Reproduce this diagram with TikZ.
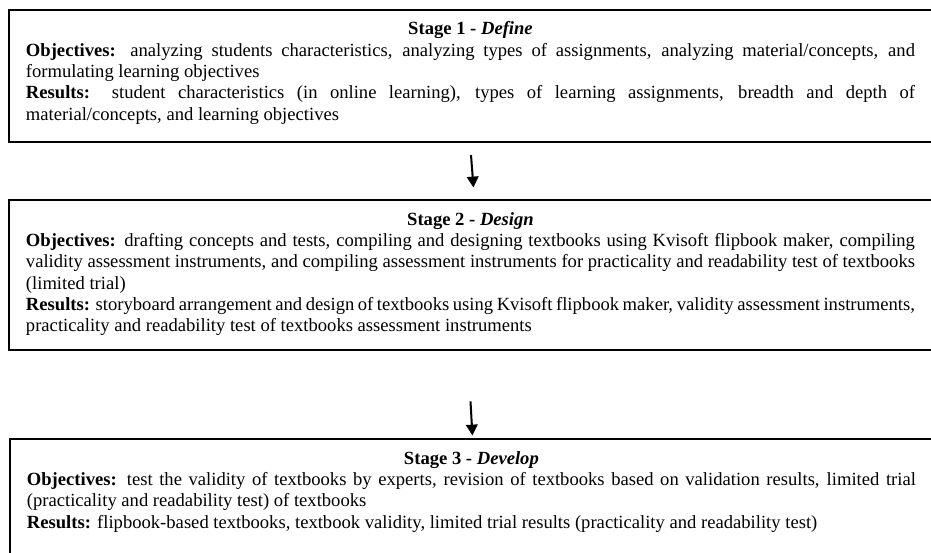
\documentclass[tikz,border=0pt]{standalone}
\usepackage{fontspec}
\setmainfont{Liberation Serif}
\usetikzlibrary{positioning,arrows.meta}

\newcommand{\stagetext}[4]{\parbox[b]{573.4pt}{\leftskip=0pt\rightskip=0pt\parfillskip=0pt plus 1fil\hyphenpenalty=10000\exhyphenpenalty=10000
  {\centering\textbf{Stage #1 - \textit{#2}}\par}\textbf{Objectives:} #3\par\textbf{Results:} #4}}

\begin{document}
\begin{tikzpicture}[x=0.645pt,y=-0.645pt]
  \tikzset{stagebox/.style={draw, line width=1.2pt, text width=600pt, align=justify, inner xsep=11pt, inner ysep=7.7pt, font=\fontsize{12pt}{13.75pt}\selectfont}}
  \tikzset{flow/.style={line width=1.3pt, -{Triangle[width=7.5pt,length=7pt]}}}
  \useasboundingbox (0,0) rectangle (931,553);
  \clip (0,0) rectangle (931,553);

  \node[stagebox, anchor=north west, text depth=6.4pt] (s1) at (8,9)
    {\stagetext{1}{Define}{analyzing students characteristics, analyzing types of assignments, analyzing material/concepts, and formulating learning objectives}{student characteristics (in online learning), types of learning assignments, breadth and depth of material/concepts, and learning objectives}};
  \node[stagebox, below=36.4pt of s1.south west, anchor=north west, text depth=4.3pt] (s2)
    {\stagetext{2}{Design}{drafting concepts and tests, compiling and designing textbooks using Kvisoft flipbook maker, compiling validity assessment instruments, and compiling assessment instruments for practicality and readability test of textbooks (limited trial)}{storyboard arrangement and design of textbooks using Kvisoft flipbook maker, validity assessment instruments, practicality and readability test of textbooks assessment instruments}};
  \node[stagebox, below=56.2pt of s2.south west, anchor=north west, xshift=0.6pt, text depth=20pt] (s3)
    {\stagetext{3}{Develop}{test the validity of textbooks by experts, revision of textbooks based on validation results, limited trial (practicality and readability test) of textbooks}{flipbook-based textbooks, textbook validity, limited trial results (practicality and readability test)}};

  \coordinate (a1) at ([shift={(463,12)}]s1.south west);
  \coordinate (b1) at ([shift={(465.5,-12)}]s2.north west);
  \coordinate (a2) at ([shift={(462.5,50)}]s2.south west);
  \coordinate (b2) at ([shift={(463.5,-3)}]s3.north west);
  \draw[flow] (a1) -- (b1);
  \draw[flow] (a2) -- (b2);
\end{tikzpicture}
\end{document}
